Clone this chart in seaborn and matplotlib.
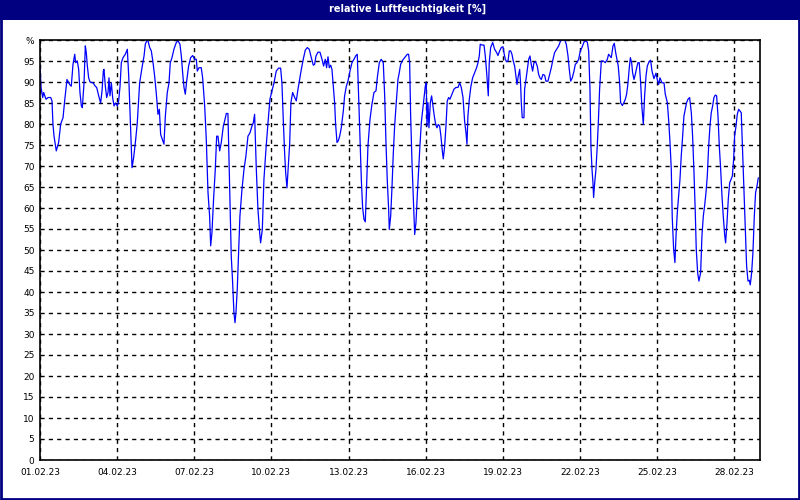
import numpy as np
import pandas as pd
import seaborn as sns
import matplotlib.pyplot as plt
from matplotlib.patches import Rectangle

# Stunden seit 01.02.23 00:00 und relative Feuchte in %
stunden = [
    0, 1, 2.5, 3.4, 5.6, 7.5, 10, 11.2, 12.1, 13.1, 15.2, 17.4, 19.3, 21.5, 23,
    25.2, 27.7, 29.2, 30.8, 32.4, 33.3, 34.8, 36.1, 37.3, 38.6, 39.5, 41.1, 42.3,
    43.2, 44.2, 45.4, 46.7, 49.5, 51.6, 52.9, 54.8, 56.6, 57.9, 59.1, 59.7, 61,
    62.2, 63.5, 64.4, 65.3, 66.6, 67.8, 69.1, 70.3, 72.2, 73.4, 74.7, 75.9, 77.5,
    79.6, 81.5, 82.8, 84.3, 85.9, 87.4, 89.3, 90.8, 93, 95.2, 97.1, 98.3, 99.6,
    100.8, 102.4, 103.9, 105.5, 107, 108.6, 110.1, 111.4, 112.6, 115.7,
    117, 118.8, 120.4, 121.6, 123.2, 125, 127.2, 128.8, 130.6, 131.9, 133.4,
    134.4, 135.6, 136.9, 138.7, 140.6, 142.5, 144.3, 145.9, 146.8, 148.4, 150.5,
    151.8, 153.7, 155.2, 156.8, 158.3, 159.3, 160.5, 162, 163.6, 164.9, 166.1,
    167.7, 169.2, 171.1, 172.3, 173.9, 175.4, 177, 178.5, 179.8, 181, 182, 182.9,
    184.1, 185.4, 186.6, 188.5, 190.4, 192.2, 194.1, 196, 197.8, 199.1, 200.3,
    201.9, 203.4, 205, 205.9, 207.5, 209, 210.9, 212.8, 214.6, 216.5, 218.4,
    220.5, 222.7, 224.6, 225.8, 227.1, 228.3, 229.3, 230.5, 231.7, 233, 234.2,
    235.8, 237.7, 239.2, 240.8, 242.3, 243.9, 245.7, 247.6, 249.5, 251.3, 253.2,
    255.1, 256.3, 257.6, 259.4, 261.3, 263.2, 264.7, 266.3, 267.5, 268.8, 270,
    271.3, 272.5, 273.7, 275, 275.9, 277.2, 278.4, 279.7, 281.2, 283.1, 284.3,
    285.9, 287.4, 289.3, 291.2, 293, 294.9, 296.1, 297.4, 298.6, 299.9, 301.1,
    302.4, 303.6, 304.5, 306.1, 308, 309.8, 311.7, 313.6, 314.8, 316.7, 318.5,
    320.4, 321.7, 322.9, 324.1, 325.4, 326, 327.3, 328.5, 329.7, 331, 332.5,
    334.1, 335.3, 336.6, 338.5, 340.3, 342.8, 344, 345, 345.9, 347.2, 348.1,
    349.1, 349.7, 350.9, 352.1, 353.4, 354.6, 355.9, 357.1, 358.4, 359.6, 360.5,
    361.2, 362.1, 363, 364.3, 365.5, 366.8, 368, 369.3, 370.5, 371.7, 373, 374.2,
    375.5, 376.4, 377.7, 378.9, 380.1, 381.4, 382.6, 384.5, 386.4, 388.2, 390.1,
    391.7, 393.2, 394.8, 396.3, 397.6, 398.5, 399.4, 400.7, 402.2, 403.8, 405.7,
    407.5, 408.8, 410, 410.9, 412.5, 414.4, 415.6, 416.9, 417.8, 418.4, 419.3,
    420.6, 422.5, 424.3, 426.2, 427.4, 429, 430.5, 432.1, 433.3, 434.3, 435.5,
    436.8, 438, 439.3, 440.5, 441.7, 443, 444.2, 445.2, 446.4, 447.7, 448.6,
    449.2, 450.1, 451.7, 452.3, 453.6, 454.8, 456.1, 457.3, 458.5, 459.8, 461,
    462.6, 464.1, 465.4, 466.6, 467.9, 469.4, 471, 472.2, 474.1, 475.7, 477.2,
    478.8, 480.3, 482.2, 484.1, 485.9, 488.1, 489.7, 491.2, 492.8, 494, 495.3,
    496.8, 498.4, 499.6, 501.2, 502.7, 504.3, 505.8, 507.7, 509.3, 510.8, 512.1,
    513.3, 514.2, 515.2, 516.1, 516.7, 517.7, 518.9, 520.1, 521.1, 522.3, 523.9,
    525.7, 527.6, 529.5, 530.7, 532, 533.2, 534.8, 536, 537.3, 538.5, 539.7, 541,
    541.9, 543.5, 545, 546.3, 547.5, 548.8, 550, 551, 552.2, 553.1, 554.4, 555.6,
    556.9, 558.1, 559.3, 560.6, 561.8, 563.1, 564.3, 565.6, 566.8, 568.4, 569.9,
    571.2, 573, 574.9, 576.1, 577.4, 578.6, 580.5, 582.4, 583.6, 585.5, 586.7,
    588, 589.2, 590.1, 591.4, 592.6, 593.6, 594.8, 596.1, 597.3, 598.5, 599.8,
    601, 602.3, 603.5, 604.8, 606.3, 607.9, 609.1, 610.4, 611.6, 612.5, 613.8,
    615, 616.6, 617.8, 619.1, 620.3, 621.6, 622.8, 624.1, 625.3, 626.5, 627.8,
    629, 630.3, 631.5, 632.8, 634, 635.3, 636.5, 637.7, 639, 639.9, 641.2, 642.4,
    643.7, 644.9, 646.2, 647.4, 648.3, 649.6, 650.8, 652.1, 653.3, 654.5, 655.8,
    657, 658.3, 659.5, 660.8, 662, 662.9, 664.2, 665.4, 666.7, 667.9, 669.2,
    670.4,
]
feuchte = [
    93.8, 88.7, 86.3, 87.5, 85.9, 86.3, 86.3, 85.5, 79.9, 77.1, 73.6, 75.6, 80,
    81.5, 85.5, 90.6, 89.4, 89, 94.2, 96.6, 94.6, 95, 93, 87.5, 84.3, 83.9, 89.8,
    98.6, 97, 93.8, 91, 90, 89.8, 89, 88.7, 86.7, 85, 87.9, 92.6, 93, 89, 86.3,
    87.5, 91, 86.7, 89.8, 86.3, 84.3, 85, 84.3, 85.5, 89, 94.6, 95.8, 96.6, 97.8,
    91.4, 81.1, 69.6, 72, 76.3, 80.3, 89.8, 93.4, 96.2, 99, 99.8, 99.8, 98.2,
    97.4, 94.6, 91.4, 87.1, 82.3, 83.5, 77.5, 75.2,
    81.9, 87.5, 89.8, 94.6, 95.8, 97.8, 99.4, 99.8, 99, 96.2, 91.4,
    88.7, 87.1, 90.2, 93.8, 95.8, 96.3, 95.4, 95.4, 92.6, 93.4, 93.4,
    91, 84.3, 76.3, 63.7, 58.1, 51, 54.2, 62.1, 69.2, 77.1, 77.1,
    73.6, 75.6, 79.5, 80.7, 82.5, 82.5, 64.4, 48.6, 42.2, 35.1, 32.7, 35.1,
    40.6, 49.4, 58.1, 64.4, 69.2, 72.4, 77.1, 77.9, 79.5, 80.3, 82.3,
    69.2, 59.7, 54.2, 51.7, 54.9, 66.8, 74, 80.3, 85.9, 87.9, 89.8,
    92.6, 93.3, 93.3, 89.8, 80.7, 73.2, 68.4, 64.8, 70, 75.2, 85.1,
    87.5, 86.3, 85.5, 88.3, 90.6, 93, 95.4, 97.6, 98.2, 97.8, 95.8,
    94, 94.2, 96.2, 97.1, 97.1, 95.4, 93.8, 95.4, 93.4, 96, 93.4,
    94, 93, 89, 85, 79.9, 75.6, 76, 77.1, 79.1, 83.1, 86.7,
    89, 90.2, 92.6, 94.6, 95.4, 96.3, 96.6, 86.7, 77.1, 66.8, 60.1,
    57.3, 56.7, 62.9, 74.8, 81.1, 84.7, 87.5, 87.9, 91, 94.6, 95.4,
    94.6, 86.7, 75.6, 66.8, 59.7, 54.9, 58.1, 64.8, 72.8, 79.5, 85.1,
    90.6, 92.2, 94.2, 95.2, 95.8, 96.6, 96.6, 94.6, 82.3, 70.8, 64.4,
    57.3, 53.7, 56.5, 62.9, 69.2, 74.8, 80.3, 83.1, 86.3, 89, 89.8,
    79.5, 85.1, 79.1, 85.1, 86.7, 84.3, 81.9, 79.9, 79.1, 79.9, 79.5, 77.1,
    73.6, 71.7, 74.8, 79.5, 85.5, 86.3, 85.9, 87.1, 88.3, 88.7, 88.7,
    89.8, 88.7, 86.3, 80.7, 77.9, 75.2, 81.9, 85.9, 89, 91, 92.2,
    93.4, 94.6, 96.2, 99, 98.8, 98.8, 96.2, 92.2, 88.7, 86.7, 94.6,
    98.2, 99.4, 97.8, 97, 96.3, 97.4, 98.2, 98.4, 96.6, 95.4, 94.8,
    95, 97.4, 97.4, 96.6, 95, 93.8, 91.4, 89.4, 91.4, 93, 89.4,
    85.1, 81.5, 81.5, 88.3, 90.6, 93, 95.4, 96.2, 94.2, 92.6, 94.6,
    94.8, 93.8, 91.8, 91, 90.6, 91.8, 91.6, 90.2, 90.2, 91.8, 93.4,
    95.4, 97, 97.8, 98.6, 99.8, 100, 100, 99, 96.2, 93, 90.2,
    91, 92.6, 94.2, 94.6, 95.4, 97.4, 98.2, 99.5, 99.8, 99.5, 97.4,
    88.3, 74.8, 69.2, 66, 62.5, 66, 69.2, 74.8, 80.3, 88.3, 95,
    95, 94.6, 95.4, 96.6, 96.2, 95.8, 98.6, 99.2, 97, 95.4, 93.8, 89.8,
    85.1, 84.4, 85.1, 85.9, 87.1, 89.8, 93.4, 95.8, 94.6, 92.2, 90.6, 91.8,
    93.4, 94.6, 94.6, 89.8, 83.9, 79.9, 86.7, 91.4, 93.8, 94.8, 95.2,
    92.6, 90.8, 92.1, 90.6, 89.4, 91, 89.8, 89.8, 87.1, 85.1, 81.1,
    75.6, 69.2, 57.7, 50.2, 47, 53.3, 58.9, 62.9, 66.8, 72.4, 77.1,
    81.9, 83.5, 85.1, 85.9, 86.3, 82.7, 77.1, 68.4, 58.9, 50.2, 44.6,
    42.6, 44.6, 53.3, 58.1, 60.5, 63.7, 67.6, 74.8, 79.5, 82.7, 84.3,
    86.3, 86.9, 86.7, 81.9, 74.8, 69.2, 62.9, 58.1, 53.7, 51.7, 56.5, 62.1,
    66, 66.8, 67.6, 71.6, 77.1, 79.5, 82.3, 83.5, 83.1, 82.7, 73.2,
    64.4, 54.9, 46.2, 42.6, 42.8, 41.7, 44.6, 49.4, 58.1, 63.7, 65.2,
    67.2,
]
tick_tage = [0, 3, 6, 9, 12, 15, 18, 21, 24, 27]
tick_labels = ["01.02.23", "04.02.23", "07.02.23", "10.02.23", "13.02.23",
               "16.02.23", "19.02.23", "22.02.23", "25.02.23", "28.02.23"]
y_werte = list(range(0, 101, 5))
y_labels = [str(v) for v in range(0, 100, 5)] + ["%"]

df = pd.DataFrame({"tag": np.array(stunden) / 24.0, "rh": feuchte})

sns.set_style("white")
plt.rcParams["font.family"] = ["DejaVu Sans"]

fig = plt.figure(figsize=(8, 5), dpi=100, facecolor="white")
ax = fig.add_axes([0.05, 0.08, 0.90, 0.84])

sns.lineplot(data=df, x="tag", y="rh", ax=ax, color="#0000ff", linewidth=0.9,
             estimator=None, sort=False)

ax.set_xlim(0, 28)
ax.set_ylim(0, 100)
ax.set_xticks(tick_tage)
ax.set_xticklabels(tick_labels, fontsize=6.5, color="black")
ax.set_xticks(range(0, 29), minor=True)
ax.set_yticks(y_werte)
ax.set_yticklabels(y_labels, fontsize=6.5, color="black")
ax.set_xlabel("")
ax.set_ylabel("")

ax.grid(True, which="major", color="black", linestyle=(0, (3, 3)), linewidth=1)
ax.tick_params(axis="x", which="both", direction="out", length=3, width=1,
               color="black", pad=3)
ax.tick_params(axis="y", length=0, pad=4)
for s in ax.spines.values():
    s.set_color("black")
    s.set_linewidth(1.2)
    s.set_visible(True)

# Titelbalken und Rahmen
fig.patches.append(Rectangle((0, 0.96), 1, 0.04, transform=fig.transFigure,
                             facecolor="#000080", edgecolor="none", zorder=0))
fig.patches.append(Rectangle((0.0015, 0.002), 0.997, 0.996, transform=fig.transFigure,
                             facecolor="none", edgecolor="#000080", linewidth=2, zorder=5))
fig.text(0.51, 0.983, "relative Luftfeuchtigkeit [%]", color="white",
         fontsize=7, fontweight="bold", ha="center", va="center")

fig.savefig("out.png", dpi=100, facecolor="white")
